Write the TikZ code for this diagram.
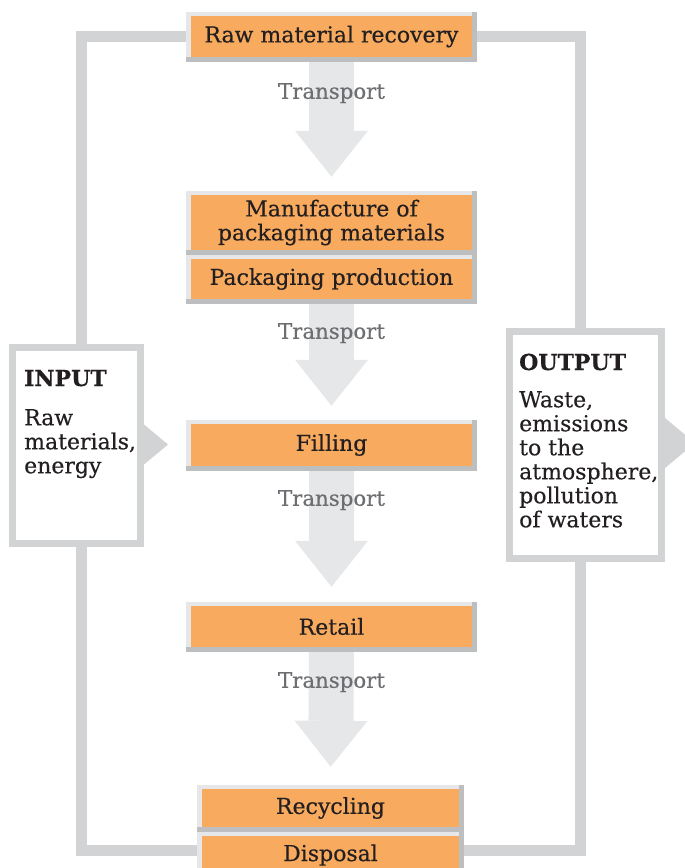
\documentclass[tikz,border=0pt]{standalone}
\usepackage{fontspec}
\setmainfont{DejaVu Serif}
\newfontfamily\heavyserif{DejaVu Serif}[FakeBold=0.4]
\usetikzlibrary{arrows.meta,backgrounds}
\definecolor{boxorange}{HTML}{F8AB5E}
\definecolor{framelight}{HTML}{E6E7E8}
\definecolor{framedark}{HTML}{BCBEC0}
\definecolor{loopgray}{HTML}{D1D3D4}
\definecolor{arrowgray}{HTML}{E6E7E8}
\definecolor{textdark}{HTML}{231F20}
\definecolor{transgray}{HTML}{6D6E71}
\newcommand\myStepFrame[1]{%
  \fill[framelight] ([xshift=-5pt,yshift=4pt]#1.north west) rectangle (#1.south east);
  \fill[framedark] ([yshift=4pt]#1.north east) rectangle ([xshift=5pt,yshift=-5pt]#1.south east);
  \fill[framedark] ([xshift=-5pt]#1.south west) rectangle ([xshift=5pt,yshift=-5pt]#1.south east);
}
\tikzset{
  txtfont/.style={font=\heavyserif\fontsize{22}{24}\selectfont},
  stepbox/.style={txtfont, fill=boxorange, minimum width=281pt, minimum height=41pt,
    inner sep=0pt, text=textdark, align=center},
  transport/.style={font=\heavyserif\fontsize{21.3}{24}\selectfont, text=transgray, inner sep=0pt},
  sidebox/.style={draw=loopgray, line width=7pt, fill=white, inner sep=0pt},
  sidetext/.style={txtfont, text=textdark, inner sep=0pt},
  loopline/.style={draw=loopgray, line width=11pt},
  blockarrow/.style={draw=arrowgray, line width=45pt,
    -{Triangle[width=73pt,length=46pt,line width=0pt]}},
}
\begin{document}
\begin{tikzpicture}[x=1pt, y={(0pt,-1pt)}]
\useasboundingbox (0,0) rectangle (685,868);

% process boxes
\node[stepbox] (rmr) at (331.5,36.5) {Raw material recovery};
\node[stepbox, minimum height=55pt] (mpm) at (331.5,222.5) {Manufacture of\\packaging materials};
\node[stepbox, minimum height=40pt] (pp) at (331.5,279) {Packaging production};
\node[stepbox, minimum height=42pt] (fill) at (331.5,445) {Filling};
\node[stepbox] (retail) at (331.5,626.5) {Retail};
\node[stepbox, minimum width=257pt, minimum height=38pt] (recyc) at (330.5,808) {Recycling};
\node[stepbox, minimum width=257pt, minimum height=38pt] (disp) at (330.5,855) {Disposal};

% input / output boxes
\node[sidebox, minimum width=128pt, minimum height=196pt] (input) at (76.5,445.5) {};
\node[sidebox, minimum width=152pt, minimum height=227pt] (output) at (585.5,445) {};

\node[sidetext, anchor=base west] (inhead) at (24,386) {\bfseries INPUT};
\node[sidetext, anchor=north west, align=left] (inbody) at (24,409) {Raw\\materials,\\energy};
\node[sidetext, anchor=base west] (outhead) at (519,370) {\bfseries OUTPUT};
\node[sidetext, anchor=north west, align=left] (outbody) at (519,391)
  {Waste,\\emissions\\to the\\atmosphere,\\pollution\\of waters};

% side triangles
\fill[loopgray] (input.east) ++(0,-21) -- ++(24,20) -- ++(-24,20) -- cycle;
\fill[loopgray] (output.east) ++(0,-27) -- ++(30,25) -- ++(-30,25) -- cycle;

% transport labels
\node[transport] (t1) at ([yshift=-36pt]rmr.south) {Transport};
\node[transport] (t2) at ([yshift=-34pt]pp.south) {Transport};
\node[transport] (t3) at ([yshift=-34pt]fill.south) {Transport};
\node[transport] (t4) at ([yshift=-35pt]retail.south) {Transport};

\begin{scope}[on background layer]
  \coordinate (lptl) at (81.5,36);
  \coordinate (lpbr) at (580.5,850);
  \draw[loopline] (lptl) rectangle (lpbr);
  \draw[blockarrow, shorten >=18pt] (rmr.south) -- (mpm.north);
  \draw[blockarrow, shorten >=18pt] (pp.south) -- (fill.north);
  \draw[blockarrow, shorten >=19pt] (fill.south) -- (retail.north);
  \draw[blockarrow, shorten >=22pt] (retail.south) -- (recyc.north);
  \myStepFrame{rmr}
  \myStepFrame{mpm}
  \myStepFrame{pp}
  \myStepFrame{fill}
  \myStepFrame{retail}
  \myStepFrame{recyc}
  \myStepFrame{disp}
\end{scope}
\end{tikzpicture}
\end{document}
